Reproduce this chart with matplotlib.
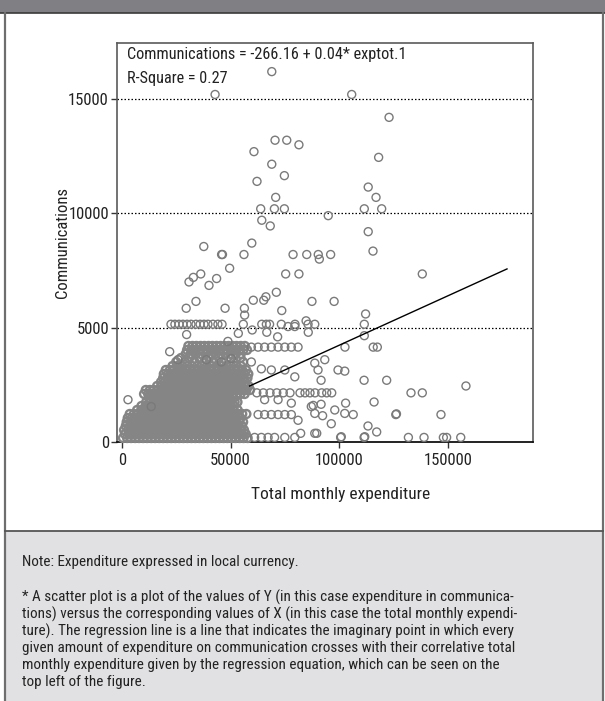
import matplotlib
matplotlib.use("Agg")
import matplotlib.pyplot as plt
from matplotlib import font_manager as fm
from matplotlib.patches import Rectangle
from matplotlib.lines import Line2D
import numpy as np

# ---------------- data (x in thousands of local currency, y in local currency) -------------
# dense cluster, read row by row (y level -> x positions)
dense_levels = [175, 350, 525, 700, 875, 1050, 1225, 1400, 1575, 1750, 1925, 2100, 2275,
                2450, 2625, 2800, 2975, 3150, 3325, 3500, 3675, 3850, 4025, 4200]
dense_xk = [
    [0.5, 2.4, 4.2, 6.1, 7.9, 9.8, 11.6, 13.5, 15.3, 17.2, 19.0, 20.9, 22.7, 24.6, 26.4, 28.3, 30.1, 32.0, 33.8, 35.7, 37.5, 39.4, 41.2, 43.1, 44.9, 46.8, 48.6, 50.5, 52.3, 54.2, 56.0, 57.9],
    [1.4, 3.3, 5.1, 7.0, 8.8, 10.7, 12.5, 14.4, 16.2, 18.1, 19.9, 21.8, 23.6, 25.5, 27.3, 29.2, 31.0, 32.9, 34.7, 36.6, 38.4, 40.3, 42.1, 44.0, 45.8, 47.7, 49.5, 51.4, 53.2, 55.1, 57.0],
    [1.0, 2.9, 4.7, 6.6, 8.4, 10.3, 12.1, 14.0, 15.8, 17.7, 19.5, 21.4, 23.2, 25.1, 26.9, 28.8, 30.6, 32.5, 34.3, 36.2, 38.0, 39.9, 41.7, 43.6, 45.4, 47.3, 49.1, 51.0, 52.8, 54.7, 56.2],
    [1.8, 3.7, 5.5, 7.4, 9.2, 11.1, 12.9, 14.8, 16.6, 18.5, 20.3, 22.2, 24.0, 25.9, 27.7, 29.6, 31.4, 33.3, 35.1, 37.0, 38.8, 40.7, 42.5, 44.4, 46.2, 48.1, 49.9, 51.8, 53.6, 55.3],
    [2.2, 4.0, 5.9, 7.7, 9.6, 11.4, 13.3, 15.1, 17.0, 18.8, 20.7, 22.5, 24.4, 26.2, 28.1, 29.9, 31.8, 33.6, 35.5, 37.3, 39.2, 41.0, 42.9, 44.7, 46.6, 48.4, 50.3, 52.1, 54.0, 55.8],
    [2.7, 4.6, 6.4, 8.3, 10.1, 12.0, 13.8, 15.7, 17.5, 19.4, 21.2, 23.1, 24.9, 26.8, 28.6, 30.5, 32.3, 34.2, 36.0, 37.9, 39.7, 41.6, 43.4, 45.3, 47.1, 49.0, 50.8, 52.7, 54.6],
    [3.6, 5.5, 7.3, 9.2, 11.0, 12.9, 14.7, 16.6, 18.4, 20.3, 22.1, 24.0, 25.8, 27.7, 29.5, 31.4, 33.2, 35.1, 36.9, 38.8, 40.6, 42.5, 44.3, 46.2, 48.0, 49.9, 51.7, 53.6, 55.4, 57.3],
    [7.0, 8.9, 10.7, 12.6, 14.4, 16.3, 18.1, 20.0, 21.8, 23.7, 25.5, 27.4, 29.2, 31.1, 32.9, 34.8, 36.6, 38.5, 40.3, 42.2, 44.0, 45.9, 47.7, 49.6, 51.4, 53.3],
    [9.0, 10.9, 12.7, 14.6, 16.4, 18.3, 20.1, 22.0, 23.8, 25.7, 27.5, 29.4, 31.2, 33.1, 34.9, 36.8, 38.6, 40.5, 42.3, 44.2, 46.0, 47.9, 49.7, 51.6],
    [11.2, 13.1, 14.9, 16.8, 18.6, 20.5, 22.3, 24.2, 26.0, 27.9, 29.7, 31.6, 33.4, 35.3, 37.1, 39.0, 40.8, 42.7, 44.5, 46.4, 48.2, 50.1, 51.9, 53.2],
    [12.4, 14.3, 16.1, 18.0, 19.8, 21.7, 23.5, 25.4, 27.2, 29.1, 30.9, 32.8, 34.6, 36.5, 38.3, 40.2, 42.0, 43.9, 45.7, 47.6, 49.4, 51.3],
    [10.2, 12.1, 13.9, 15.8, 17.6, 19.5, 21.3, 23.2, 25.0, 26.9, 28.7, 30.6, 32.4, 34.3, 36.1, 38.0, 39.8, 41.7, 43.5, 45.4, 47.2, 49.1, 50.9, 52.8, 54.6, 56.5],
    [11.0, 12.9, 14.7, 16.6, 18.4, 20.3, 22.1, 24.0, 25.8, 27.7, 29.5, 31.4, 33.2, 35.1, 36.9, 38.8, 40.6, 42.5, 44.3, 46.2, 48.0, 49.9, 51.7, 53.6, 55.4, 57.3, 59.0],
    [16.2, 18.1, 19.9, 21.8, 23.6, 25.5, 27.3, 29.2, 31.0, 32.9, 34.7, 36.6, 38.4, 40.3, 42.1, 44.0, 45.8, 47.7, 49.5, 51.4, 53.2, 55.1, 56.9, 58.3],
    [18.0, 19.9, 21.7, 23.6, 25.4, 27.3, 29.1, 31.0, 32.8, 34.7, 36.5, 38.4, 40.2, 42.1, 43.9, 45.8, 47.6, 49.5, 51.3, 53.2, 55.0, 56.8],
    [19.0, 20.9, 22.7, 24.6, 26.4, 28.3, 30.1, 32.0, 33.8, 35.7, 37.5, 39.4, 41.2, 43.1, 44.9, 46.8, 48.6, 50.5, 52.3, 54.2, 56.0, 57.8],
    [19.3, 21.2, 23.0, 24.9, 26.7, 28.6, 30.4, 32.3, 34.1, 36.0, 37.8, 39.7, 41.5, 43.4, 45.2, 47.1, 48.9, 50.8, 52.6, 54.5, 56.3, 58.2],
    [20.2, 22.1, 23.9, 25.8, 27.6, 29.5, 31.3, 33.2, 35.0, 36.9, 38.7, 40.6, 42.4, 44.3, 46.1, 48.0, 49.8, 51.7, 53.5, 55.4, 57.2],
    [23.3, 25.6, 27.8, 30.1, 32.3, 34.6, 36.8, 39.1, 41.3, 43.6, 45.8, 48.1, 50.3, 52.6, 54.8],
    [25.0, 29.1, 33.4, 37.9, 42.2, 46.8, 51.5, 55.8],
    [27.2, 31.0, 35.6, 40.1, 44.7, 49.8, 54.6],
    [29.4, 31.7, 34.0, 36.3, 38.6, 40.9, 43.2, 45.5, 47.8, 50.1, 52.4, 54.7],
    [30.0, 31.9, 33.7, 35.6, 37.4, 39.3, 41.1, 43.0, 44.8, 46.7, 48.5, 50.4, 52.2, 54.1, 55.9, 57.6],
    [30.6, 32.5, 34.3, 36.2, 38.0, 39.9, 41.7, 43.6, 45.4, 47.3, 49.1, 51.0, 52.8, 54.7, 56.6],
]

# rows of open circles at common spending amounts (x in thousands)
row_levels = [5150, 4150, 2150, 1200, 200]
row_xk = [
    [22.6, 24.4, 26.3, 28.1, 30.0, 31.8, 34.1, 36.0, 37.8, 39.6, 41.9, 44.2, 46.1, 55.9, 64.4, 66.5, 68.0, 73.4, 79.7, 85.7, 88.8, 111.6],
    [59.6, 62.7, 65.7, 68.8, 71.9, 75.0, 78.0, 81.1, 102.7, 115.7, 117.6],
    [62.1, 65.1, 68.2, 71.3, 74.3, 77.4, 82.0, 84.3, 86.6, 88.9, 92.0, 94.3, 96.6, 133.1, 138.3],
    [62.7, 65.7, 68.8, 71.9, 75.0, 78.0, 106.5, 126.1, 146.9],
    [61.1, 64.2, 67.3, 70.3, 75.0, 79.6, 111.5, 100.7, 131.9, 139.1, 148.0, 149.5, 156.0],
]

# individual scattered households (x in thousands, y)
single_xk = [69.0, 42.9, 105.8, 123.0, 70.5, 75.9, 81.5, 60.8, 69.0, 74.8, 62.2, 70.8, 63.9, 70.2, 74.8,
             95.0, 64.4, 68.3, 59.8, 37.7, 45.9, 46.3, 56.2, 78.8, 85.1, 90.4, 90.9, 96.1, 49.6, 75.4,
             81.5, 36.3, 32.9, 30.9, 43.6, 40.1, 71.1, 66.3, 60.5, 65.3, 34.1, 29.6, 47.5, 56.4, 73.6,
             87.5, 97.7, 76.5, 79.6, 29.8, 53.6, 60.0, 66.7, 71.7, 85.8, 56.5, 48.8,
             118.2, 113.4, 117.0, 111.6, 119.6, 113.4, 115.6, 138.3, 112.2, 84.8, 111.6,
             158.4, 103.0, 116.1, 126.4, 113.3, 117.3, 111.8, 89.7, 82.3, 92.4, 88.1, 91.7, 91.7,
             111.5, 121.9, 22.0, 25.8, 38.9, 45.8, 50.4, 59.6, 64.2, 68.8, 75.0, 79.6, 88.8, 93.4,
             90.3, 99.5, 102.6, 65.7, 71.9, 78.0, 87.2, 98.0, 2.8, 13.5, 81.1, 88.8, 96.4, 102.6,
             88.8, 101.0]
single_y = [16200, 15200, 15200, 14200, 13200, 13200, 13000, 12700, 12150, 11650, 11400, 10700, 10200, 10200, 10200,
            9900, 9700, 9450, 8700, 8550, 8200, 8200, 8200, 8200, 8200, 8200, 8000, 8200, 7600, 7350,
            7350, 7350, 7200, 7000, 7150, 6850, 6550, 6350, 6200, 6200, 6150, 5850, 5850, 5850, 5750,
            6150, 6150, 5050, 5050, 4700, 4750, 4900, 4800, 4600, 4800, 5550, 4400,
            12450, 11150, 10700, 10200, 10200, 9200, 8350, 7350, 5600, 5300, 4650,
            2450, 1700, 1750, 1230, 700, 440, 230, 380, 380, 1150, 1600, 1650, 2700,
            2700, 2700, 3950, 3600, 3600, 3500, 3650, 3500, 3200, 3150, 3150, 2850, 3450, 3600,
            3150, 3150, 3100, 1850, 1850, 1700, 1550, 1400, 1850, 1550, 950, 1250, 800, 1250,
            380, 230]

# regression line (as drawn)
line_x = [58800, 177300]
line_y = [2450, 7570]

equation_text = "Communications = -266.16 + 0.04* exptot.1"
rsq_text = "R-Square = 0.27"
x_ticks = [0, 50000, 100000, 150000]
y_ticks = [0, 5000, 10000, 15000]
x_label = "Total monthly expenditure"
y_label = "Communications"
note_lines = [
    "* A scatter plot is a plot of the values of Y (in this case expenditure in communica-",
    "tions) versus the corresponding values of X (in this case the total monthly expendi-",
    "ture). The regression line is a line that indicates the imaginary point in which every",
    "given amount of expenditure on communication crosses with their correlative total",
    "monthly expenditure given by the regression equation, which can be seen on the",
    "top left of the figure.",
]
note_head = "Note: Expenditure expressed in local currency."

# ---------------- fonts ----------------
avail = {f.name for f in fm.fontManager.ttflist}
cond = None
for cand in ["Liberation Sans Narrow", "Roboto Condensed", "Open Sans Condensed", "Arial Narrow", "Noto Sans Condensed"]:
    if cand in avail:
        cond = cand
        break
if cond is not None:
    fam = [cond, "DejaVu Sans"]
    k = 1.0
else:
    fam = ["Liberation Sans", "DejaVu Sans"]
    k = 0.84
plt.rcParams["font.family"] = fam

W, H = 605, 701
fig = plt.figure(figsize=(W / 100, H / 100), dpi=100)
fig.patch.set_facecolor("white")

def fx(px):
    return px / W

def fy(py):
    return 1 - py / H

# frame decorations
fig.add_artist(Rectangle((fx(5), 0), fx(603) - fx(5), fy(531), transform=fig.transFigure,
                         facecolor="#e1e1e3", edgecolor="none", zorder=0))
fig.add_artist(Rectangle((0, fy(12.5)), 1, 1 - fy(12.5), transform=fig.transFigure,
                         facecolor="#808084", edgecolor="none", zorder=1))
fig.add_artist(Line2D([0, 1], [fy(12.8), fy(12.8)], transform=fig.transFigure, color="#3a3a3a", lw=1.2))
fig.add_artist(Line2D([fx(5), fx(5)], [0, fy(12.5)], transform=fig.transFigure, color="#6e6e6e", lw=1.6))
fig.add_artist(Line2D([fx(603), fx(603)], [0, fy(12.5)], transform=fig.transFigure, color="#6e6e6e", lw=1.6))
fig.add_artist(Line2D([fx(5), fx(603)], [fy(531), fy(531)], transform=fig.transFigure, color="#555555", lw=1.3))

# axes
L, R, T, B = 117.3, 532.7, 42.7, 442.0
ax = fig.add_axes([fx(L), fy(B), (R - L) / W, (B - T) / H])
ax.set_xlim(-2118, 189130)
ax.set_ylim(0, 17465)
ax.set_facecolor("white")

mk = dict(s=33, facecolors="none", edgecolors="#7a7a7a", linewidths=1.0, clip_on=False, zorder=3)
dx, dy = [], []
for lev, xs in zip(dense_levels, dense_xk):
    dx += [v * 1000 for v in xs]
    dy += [lev] * len(xs)
dense_style = dict(mk)
dense_style["linewidths"] = 1.7
dense_style["edgecolors"] = "#858585"
ax.scatter(dx, dy, **dense_style)
rx, ry = [], []
for lev, xs in zip(row_levels, row_xk):
    rx += [v * 1000 for v in xs]
    ry += [lev] * len(xs)
ax.scatter(rx, ry, **mk)
ax.scatter([v * 1000 for v in single_xk], single_y, **mk)

ax.plot(line_x, line_y, color="black", lw=1.0, zorder=4)

for yv in y_ticks[1:]:
    ax.axhline(yv, color="black", lw=0.9, linestyle=(0, (1.2, 1.6)), zorder=2)

ax.set_xticks(x_ticks)
ax.set_xticklabels([str(v) for v in x_ticks])
ax.set_yticks(y_ticks)
ax.set_yticklabels([str(v) for v in y_ticks])
ax.tick_params(direction="out", length=4, width=1, color="#333333", labelsize=12 * k, colors="#222222")
ax.tick_params(axis="x", pad=4)
ax.tick_params(axis="y", pad=2)
for s in ["left", "top", "right"]:
    ax.spines[s].set_color("#5a5a5a")
    ax.spines[s].set_linewidth(1.2)
ax.spines["bottom"].set_color("#111111")
ax.spines["bottom"].set_linewidth(1.3)

# texts
fig.text(fx(127), fy(55), equation_text, fontsize=11.7 * k, va="center", ha="left", color="#222222")
fig.text(fx(127), fy(78), rsq_text, fontsize=11.7 * k, va="center", ha="left", color="#222222")
fig.text(fx(63), fy(243), y_label, rotation=90, fontsize=12 * k, va="center", ha="center", color="#222222")
fig.text(fx(341), fy(494), x_label, fontsize=12.5 * k, va="center", ha="center", color="#222222")

fig.text(fx(22), fy(562), note_head, fontsize=10.9 * k, va="center", ha="left", color="#222222")
for i, line in enumerate(note_lines):
    fig.text(fx(22), fy(597 + 17 * i), line, fontsize=10.9 * k, va="center", ha="left", color="#222222")

fig.savefig("out.png", dpi=100, facecolor="white")
